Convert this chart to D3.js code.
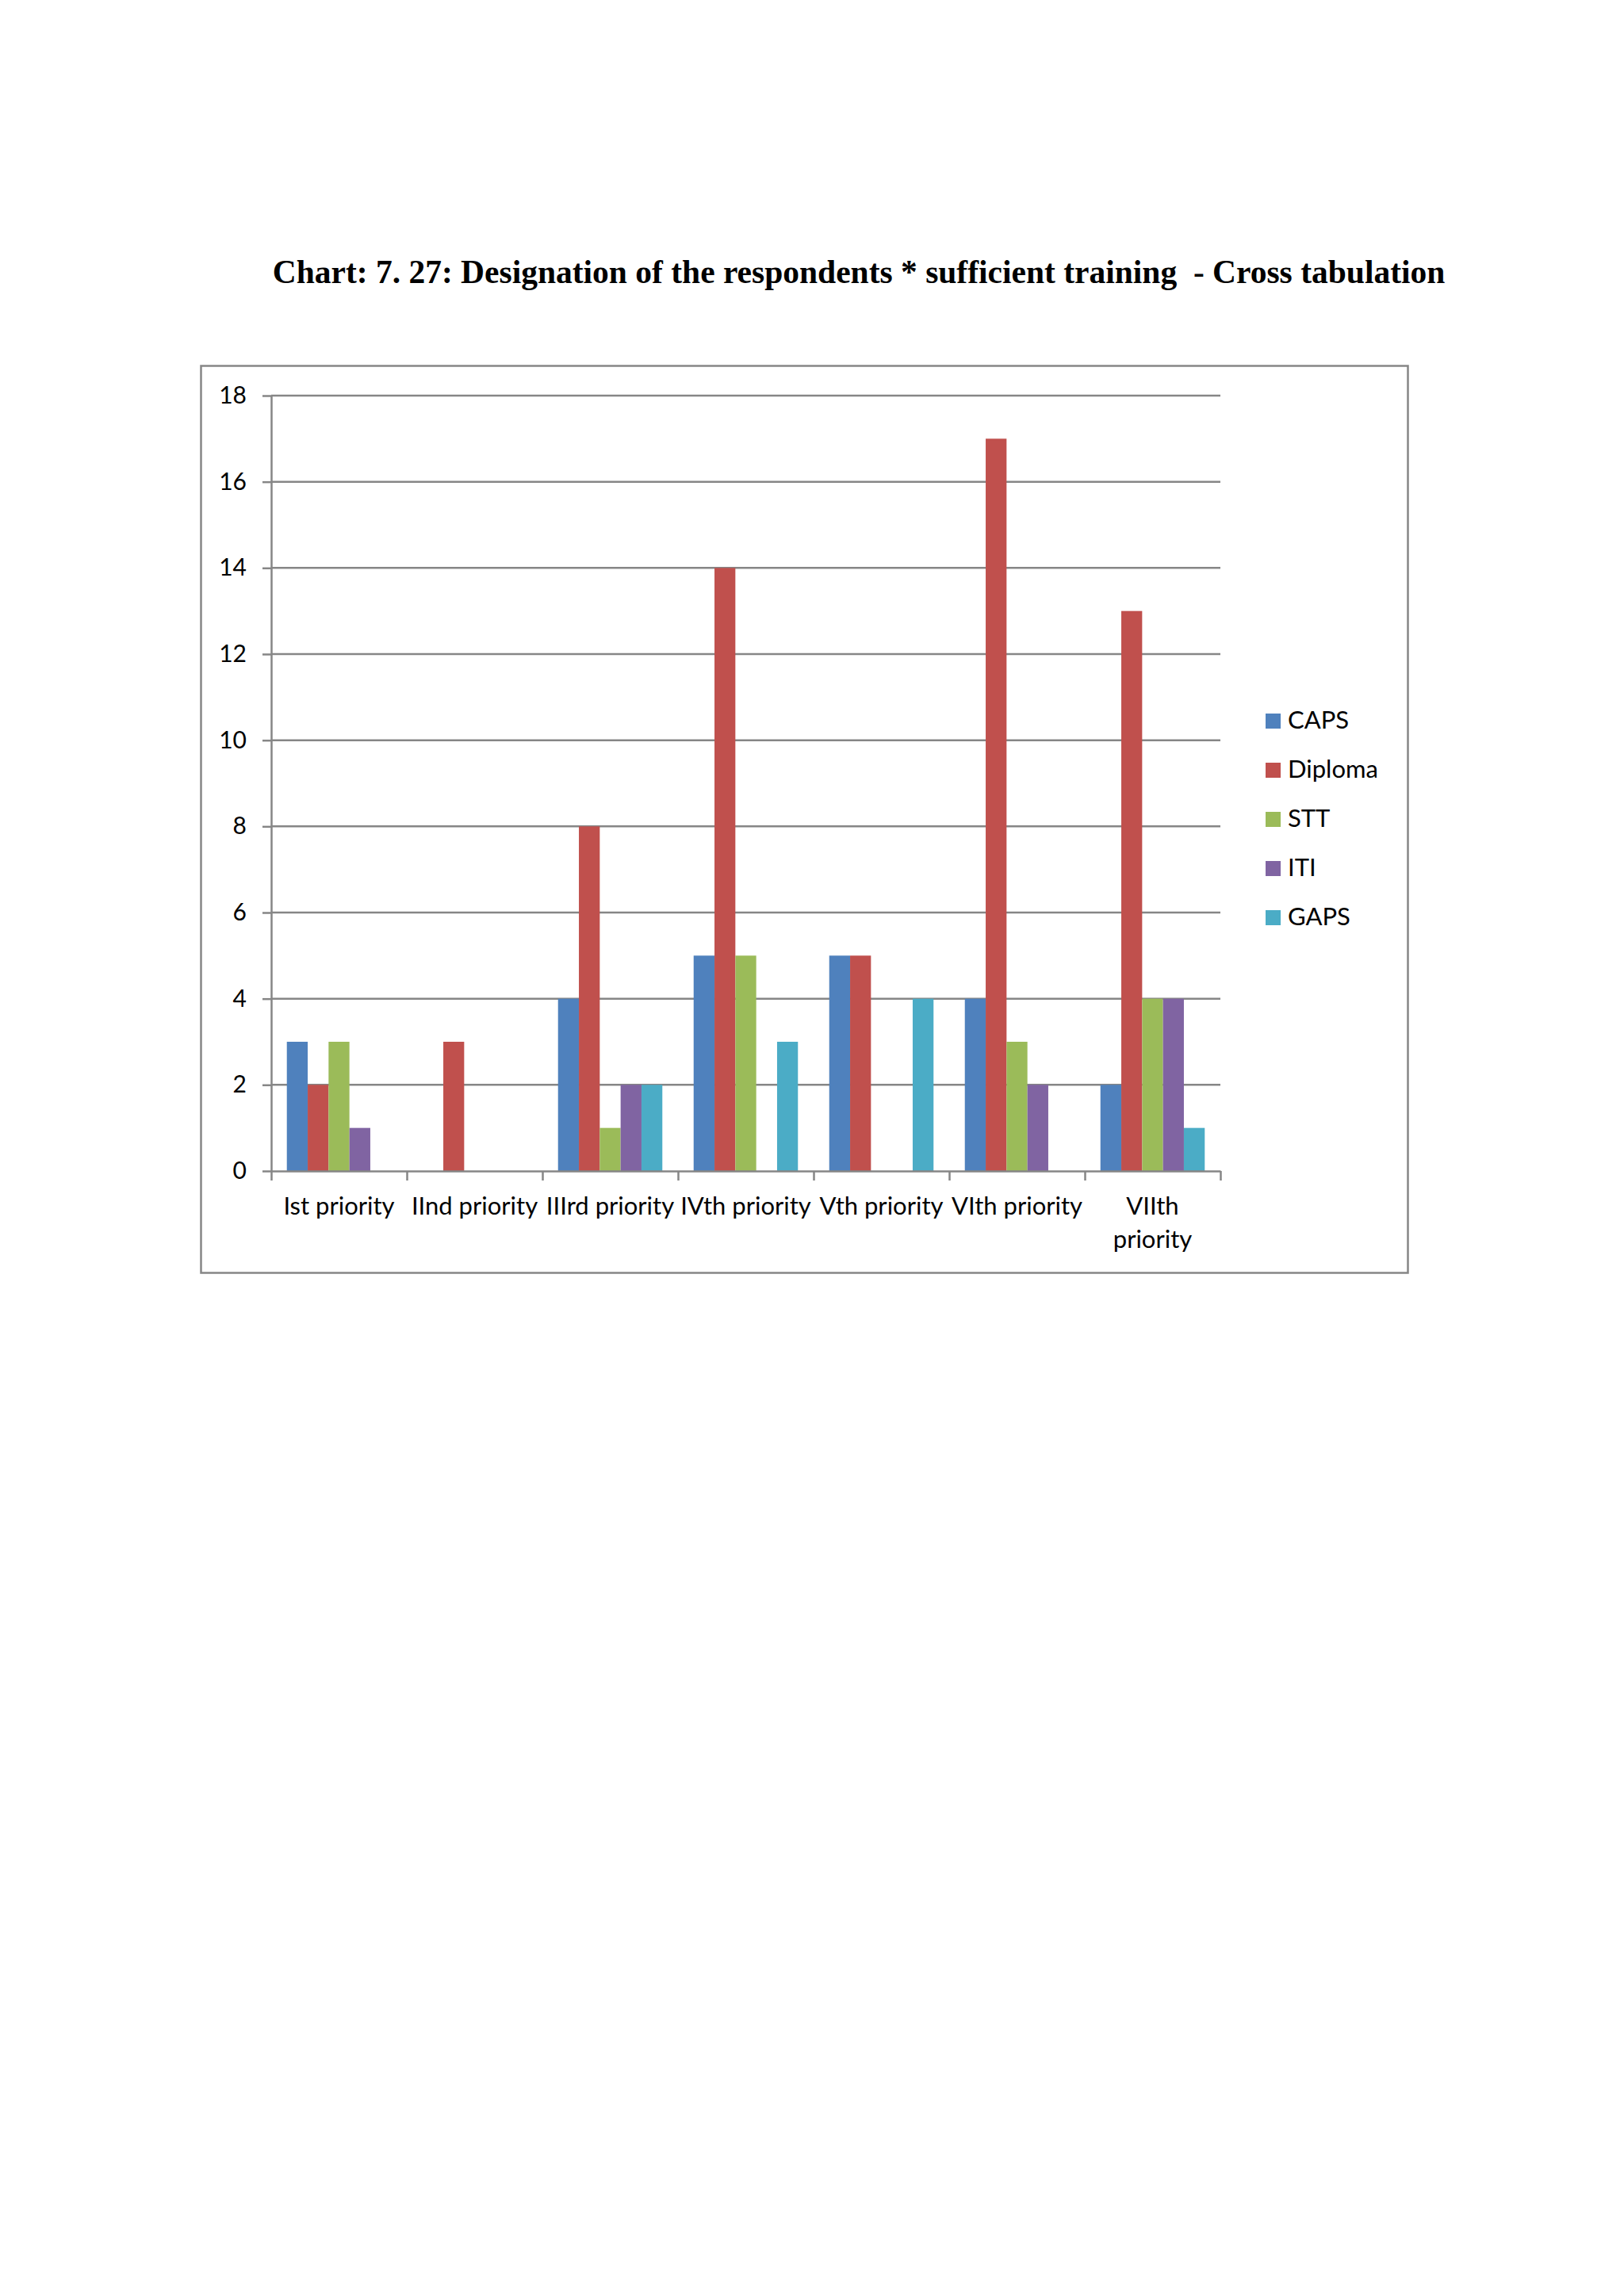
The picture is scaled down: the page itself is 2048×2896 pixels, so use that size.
<!DOCTYPE html>
<html>
<head>
<meta charset="utf-8">
<script src="https://cdn.jsdelivr.net/npm/d3@7"></script>
<style>
  body { margin: 0; background: #fff; }
  svg text { fill: #000; }
</style>
</head>
<body>
<script>
"use strict"

// Data
const categories = ["Ist priority", "IInd priority", "IIIrd priority", "IVth priority", "Vth priority", "VIth priority", "VIIth priority"]
const series = ["CAPS", "Diploma", "STT", "ITI", "GAPS"]
const caps    = [3, 0, 4, 5, 5, 4, 2]
const diploma = [2, 3, 8, 14, 5, 17, 13]
const stt     = [3, 0, 1, 5, 0, 3, 4]
const iti     = [1, 0, 2, 0, 0, 2, 4]
const gaps    = [0, 0, 2, 3, 4, 0, 1]
const yTicks  = [0, 2, 4, 6, 8, 10, 12, 14, 16, 18]
const colors  = ["#4F81BD", "#C0504D", "#9BBB59", "#8064A2", "#4BACC6"]
const title   = "Chart: 7. 27: Designation of the respondents * sufficient training  - Cross tabulation"

const values = [caps, diploma, stt, iti, gaps]
const rows = categories.map((c, i) => ({ category : c, values : series.map((s, j) => ({ key : s, value : values[j][i] })) }))

const width = 2048
const height = 2896
const plot = { left : 342, right : 1539, top : 499, bottom : 1477 }
const font = "Lato, 'Open Sans', sans-serif"
const grey = "#868686"

const svg = d3.select("body").append("svg").attr("width", width).attr("height", height)

svg.append("text")
  .attr("x", 1083).attr("y", 357)
  .attr("text-anchor", "middle")
  .style("font-family", "'Liberation Serif', 'Times New Roman', serif")
  .style("font-weight", "bold")
  .style("font-size", "41.5px")
  .style("white-space", "pre")
  .text(title)

// chart frame
svg.append("rect")
  .attr("x", 253.5).attr("y", 461.5).attr("width", 1522).attr("height", 1144)
  .attr("fill", "#fff").attr("stroke", grey).attr("stroke-width", 2.5)

const x0 = d3.scaleBand().domain(categories).range([plot.left, plot.right]).padding(0)
const x1 = d3.scaleBand().domain(series).range([0, x0.bandwidth()]).paddingInner(0).paddingOuter(0.75)
const y = d3.scaleLinear().domain([0, 18]).range([plot.bottom, plot.top])
const color = d3.scaleOrdinal().domain(series).range(colors)

// gridlines
svg.append("g").selectAll("line").data(yTicks.filter(t => t > 0)).join("line")
  .attr("x1", plot.left).attr("x2", plot.right)
  .attr("y1", d => y(d)).attr("y2", d => y(d))
  .attr("stroke", grey).attr("stroke-width", 2.5)

// bars
svg.append("g").selectAll("g").data(rows).join("g")
  .attr("transform", d => `translate(${x0(d.category)},0)`)
  .selectAll("rect").data(d => d.values.filter(v => v.value > 0)).join("rect")
  .attr("x", d => x1(d.key))
  .attr("width", x1.bandwidth())
  .attr("y", d => y(d.value))
  .attr("height", d => y(0) - y(d.value))
  .attr("fill", d => color(d.key))

// y axis
const yAxis = svg.append("g")
  .attr("transform", `translate(${plot.left},0)`)
  .call(d3.axisLeft(y).tickValues(yTicks).tickSize(11).tickPadding(20).tickSizeOuter(0))
yAxis.select(".domain").attr("stroke", grey).attr("stroke-width", 2.5)
yAxis.selectAll(".tick line").attr("stroke", grey).attr("stroke-width", 2.5)
yAxis.selectAll(".tick text").style("font-family", font).style("font-size", "30px").attr("fill", "#000")

// x axis: ticks between categories
const xi = d3.scaleLinear().domain([0, categories.length]).range([plot.left, plot.right])
const xAxis = svg.append("g")
  .attr("transform", `translate(0,${plot.bottom})`)
  .call(d3.axisBottom(xi).tickValues(d3.range(categories.length + 1)).tickFormat("").tickSize(12).tickSizeOuter(0))
xAxis.select(".domain").attr("stroke", grey).attr("stroke-width", 2.5)
xAxis.selectAll(".tick line").attr("stroke", grey).attr("stroke-width", 2.5)

// category labels (wrap the last one like the original)
const labelLines = c => c === "VIIth priority" ? ["VIIth", "priority"] : [c]
svg.append("g").selectAll("text").data(categories).join("text")
  .attr("text-anchor", "middle")
  .style("font-family", font).style("font-size", "31px")
  .attr("x", c => x0(c) + x0.bandwidth() / 2)
  .attr("y", 1532)
  .selectAll("tspan").data(c => labelLines(c).map(t => ({ t, c }))).join("tspan")
  .attr("x", d => x0(d.c) + x0.bandwidth() / 2)
  .attr("dy", (d, i) => i ? 42 : 0)
  .text(d => d.t)

// legend
const legend = svg.append("g").attr("transform", "translate(1596,900)")
const item = legend.selectAll("g").data(series).join("g")
  .attr("transform", (d, i) => `translate(0,${i * 62})`)
item.append("rect").attr("width", 19).attr("height", 19).attr("fill", d => color(d))
item.append("text").attr("x", 28).attr("y", 19)
  .style("font-family", font).style("font-size", "31px")
  .text(d => d)
</script>
</body>
</html>
